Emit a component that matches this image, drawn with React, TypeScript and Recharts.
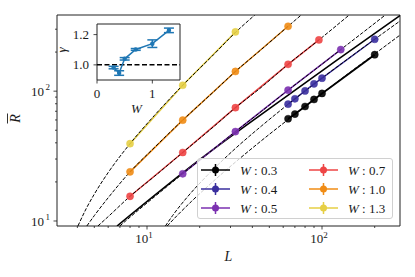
import React from 'react';
import { LineChart, Line, XAxis, YAxis, ReferenceArea, Legend, ErrorBar, ReferenceLine, CartesianGrid } from 'recharts';

// ---------- main panel data ----------
const W_LABELS = ['0.3', '0.4', '0.5', '0.7', '1.0', '1.3'];
const COLORS = ['#000000', '#3a2f9e', '#7b31b0', '#ee4545', '#f08c15', '#e6cf45'];

const L_W03 = [64, 70, 80, 90, 100, 200];
const R_W03 = [61.3, 66.6, 76.2, 86.3, 96, 191];
const L_W04 = [64, 70, 80, 90, 100, 200];
const R_W04 = [79.4, 87.3, 100.5, 113.8, 125.9, 251];
const L_W05 = [16, 32, 64, 128];
const R_W05 = [23.1, 48.8, 101.8, 209];
const L_W07 = [8, 16, 32, 64, 96];
const R_W07 = [15.5, 33.7, 74.6, 161, 248];
const L_W10 = [8, 16, 32, 64];
const R_W10 = [23.9, 59.8, 141.8, 316];
const L_W13 = [8, 16, 32];
const R_W13 = [39.4, 111, 286];

// dashed fit curves
const FIT_L_W03 = [13.04, 15, 18, 24, 32, 45, 64, 100, 140, 200, 279];
const FIT_R_W03 = [9.15, 11.15, 14.2, 20.3, 28.4, 41.5, 60.4, 96, 135.3, 193.6, 270.3];
const FIT_L_W04 = [12.74, 14, 17, 22, 32, 45, 64, 100, 140, 200, 279];
const FIT_R_W04 = [9.15, 11.0, 15.3, 22.3, 36.2, 53.8, 79.2, 125.9, 176.6, 251, 347];
const FIT_L_W05 = [6.99, 8, 11, 16, 22, 32, 45, 64, 90, 128, 170, 230];
const FIT_R_W05 = [9.15, 10.7, 15.3, 23.1, 32.6, 48.8, 69.8, 101.8, 144.7, 209, 281, 386];
const FIT_L_W07 = [5.24, 6, 8, 11, 16, 24, 32, 45, 64, 96, 143];
const FIT_R_W07 = [9.15, 10.8, 15.5, 22.0, 33.7, 53.2, 74.6, 107.1, 161, 248, 386];
const FIT_L_W10 = [4.53, 5, 6, 8, 11, 16, 24, 32, 45, 64, 76.1];
const FIT_R_W10 = [9.15, 11.0, 15.1, 23.9, 36.7, 59.8, 98.8, 141.8, 209.3, 316, 386];
const FIT_L_W13 = [4.03, 4.5, 5, 6, 8, 11, 16, 24, 32, 41.3];
const FIT_R_W13 = [9.15, 12.5, 16.1, 23.6, 39.4, 64.8, 111, 191, 283, 386];

// solid guide line
const GUIDE_L = [6.74, 20, 50.5, 120, 279];
const GUIDE_R = [9.15, 29.7, 74, 171, 382];

const X_TICKS = [4, 5, 6, 7, 8, 9, 10, 20, 30, 40, 50, 60, 70, 80, 90, 100, 200];
const Y_TICKS = [10, 20, 30, 40, 50, 60, 70, 80, 90, 100, 200, 300];
const X_MIN = 3.06, X_MAX = 279, Y_MIN = 9.15, Y_MAX = 386;

// ---------- inset data ----------
const INSET_W = [0.3, 0.4, 0.5, 0.7, 1.0, 1.3];
const INSET_GAMMA = [0.982, 0.946, 1.04, 1.102, 1.14, 1.228];
const INSET_ERR = [0.008, 0.015, 0.008, 0.006, 0.025, 0.015];
const INSET_X_TICKS = [0, 1];
const INSET_Y_TICKS = [1.0, 1.2];

const zip = (ls: number[], rs: number[]) => ls.map((L, i) => ({ L, R: rs[i] }));

const SERIES = [
  zip(L_W03, R_W03), zip(L_W04, R_W04), zip(L_W05, R_W05),
  zip(L_W07, R_W07), zip(L_W10, R_W10), zip(L_W13, R_W13),
];
const FITS = [
  zip(FIT_L_W03, FIT_R_W03), zip(FIT_L_W04, FIT_R_W04), zip(FIT_L_W05, FIT_R_W05),
  zip(FIT_L_W07, FIT_R_W07), zip(FIT_L_W10, FIT_R_W10), zip(FIT_L_W13, FIT_R_W13),
];
const GUIDE = zip(GUIDE_L, GUIDE_R);
const INSET = INSET_W.map((W, i) => ({ W, g: INSET_GAMMA[i], err: INSET_ERR[i] }));

const FONT = '"Liberation Serif", "DejaVu Serif", serif';
const INK = '#1a1a1a';
const TS = { fontFamily: FONT } as React.CSSProperties;
const TSI = { fontFamily: FONT, fontStyle: 'italic' } as React.CSSProperties;

const XTick = (props: any) => {
  const { x, y, payload } = props;
  const v = payload.value;
  const major = v === 10 || v === 100;
  return (
    <g>
      <line x1={x} y1={y} x2={x} y2={y + (major ? 3.5 : 2)} stroke={INK} strokeWidth={0.8} />
      {major && (
        <text x={x - 3} y={y + 17} textAnchor="middle" style={TS} fontSize={13} fill={INK}>
          10<tspan dy={-5} fontSize={9}>{v === 10 ? '1' : '2'}</tspan>
        </text>
      )}
    </g>
  );
};

const YTick = (props: any) => {
  const { x, y, payload } = props;
  const v = payload.value;
  const major = v === 10 || v === 100;
  return (
    <g>
      <line x1={x} y1={y} x2={x - (major ? 3.5 : 2)} y2={y} stroke={INK} strokeWidth={0.8} />
      {major && (
        <text x={x - 13} y={y + 5} textAnchor="end" style={TS} fontSize={13} fill={INK}>
          10
        </text>
      )}
      {major && (
        <text x={x - 7} y={y - 1} textAnchor="end" style={TS} fontSize={9} fill={INK}>
          {v === 10 ? '1' : '2'}
        </text>
      )}
    </g>
  );
};

const InsetXTick = (props: any) => {
  const { x, y, payload } = props;
  return (
    <g>
      <line x1={x} y1={y} x2={x} y2={y + 3.5} stroke={INK} strokeWidth={0.8} />
      <text x={x} y={y + 18} textAnchor="middle" style={TS} fontSize={13} fill={INK}>
        {String(payload.value)}
      </text>
    </g>
  );
};

const InsetYTick = (props: any) => {
  const { x, y, payload } = props;
  return (
    <g>
      <line x1={x} y1={y} x2={x - 3.5} y2={y} stroke={INK} strokeWidth={0.8} />
      <text x={x - 8} y={y + 4.5} textAnchor="end" style={TS} fontSize={13} fill={INK}>
        {Number(payload.value).toFixed(1)}
      </text>
    </g>
  );
};

const renderLegend = () => {
  const entries = W_LABELS.map((w, i) => {
    const col = i < 3 ? 0 : 1;
    const row = i % 3;
    const x0 = col === 0 ? 3 : 111;
    const cy = 11 + row * 19;
    const c = COLORS[i];
    return (
      <g key={w}>
        <line x1={x0} y1={cy} x2={x0 + 29} y2={cy} stroke={c} strokeWidth={1.5} />
        <line x1={x0 + 14.5} y1={cy - 6} x2={x0 + 14.5} y2={cy + 6} stroke={c} strokeWidth={1.5} />
        <circle cx={x0 + 14.5} cy={cy} r={3.5} fill={c} />
        <text x={x0 + 39} y={cy + 4.5} style={TS} fontSize={13} fill={INK}>
          <tspan style={TSI}>W</tspan>
          <tspan> : {w}</tspan>
        </text>
      </g>
    );
  });
  return (
    <div style={{ width: 196, height: 61, boxSizing: 'border-box', border: '1px solid #d0d0d0', borderRadius: 3, background: 'rgba(255,255,255,0.8)' }}>
      <svg width={194} height={59} style={{ display: 'block' }}>{entries}</svg>
    </div>
  );
};

export default function App() {
  return (
    <div style={{ position: 'absolute', left: 0, top: 0, width: 415, height: 277, background: '#fff' }}>
      <LineChart width={415} height={277} margin={{ top: 15, right: 15, bottom: 21, left: 0 }}>
        <XAxis
          dataKey="L" type="number" scale="log" domain={[X_MIN, X_MAX]} allowDataOverflow
          ticks={X_TICKS} interval={0} tickSize={0} tickMargin={0} tickLine={false} axisLine={false}
          height={30} tick={<XTick />}
          label={{
            content: (p: any) => {
              const vb = p.viewBox;
              return (
                <text x={vb.x + vb.width / 2} y={vb.y + 35} textAnchor="middle" style={TSI} fontSize={14} fill={INK}>L</text>
              );
            },
          }}
        />
        <YAxis
          dataKey="R" type="number" scale="log" domain={[Y_MIN, Y_MAX]} allowDataOverflow
          ticks={Y_TICKS} interval={0} tickSize={0} tickMargin={0} tickLine={false} axisLine={false}
          width={57} tick={<YTick />}
          label={{
            content: (p: any) => {
              const vb = p.viewBox;
              const cy = vb.y + vb.height / 2 - 2;
              return (
                <g transform={`rotate(-90 20 ${cy})`}>
                  <text x={20} y={cy} textAnchor="middle" style={TSI} fontSize={14} fill={INK}>R</text>
                  <line x1={15} y1={cy - 12.5} x2={25} y2={cy - 12.5} stroke={INK} strokeWidth={0.9} />
                </g>
              );
            },
          }}
        />
        <ReferenceArea x1={X_MIN} x2={X_MAX} y1={Y_MIN} y2={Y_MAX} fill="none" stroke="#222" strokeWidth={1} ifOverflow="visible" />
        <Line data={GUIDE} dataKey="R" type="monotone" stroke="#000" strokeWidth={1.6} dot={false} activeDot={false} isAnimationActive={false} legendType="none" />
        {SERIES.map((d, i) => (
          <Line key={'s' + i} data={d} dataKey="R" type="linear" stroke={COLORS[i]} strokeWidth={i === 0 ? 1.8 : 1.5} dot={false} activeDot={false} isAnimationActive={false} legendType="none" />
        ))}
        {FITS.map((d, i) => (
          <Line key={'f' + i} data={d} dataKey="R" type="monotone" stroke="#000" strokeWidth={1} strokeDasharray="3.7 1.6" dot={false} activeDot={false} isAnimationActive={false} legendType="none" />
        ))}
        {SERIES.map((d, i) => (
          <Line key={'m' + i} data={d} dataKey="R" name={'W : ' + W_LABELS[i]} type="linear" stroke="none"
            dot={{ r: 3.6, fill: COLORS[i], stroke: COLORS[i], strokeWidth: 0.4, fillOpacity: 0.9 }}
            activeDot={false} isAnimationActive={false} />
        ))}
        <Legend layout="horizontal" verticalAlign="middle" align="center" content={renderLegend}
          wrapperStyle={{ position: 'absolute', left: 197, top: 158, width: 196, height: 61 }} />
      </LineChart>

      <div style={{ position: 'absolute', left: 0, top: 0 }}>
        <LineChart width={190} height={120} data={INSET} margin={{ top: 24, right: 10, bottom: 10, left: 57 }}>
          <CartesianGrid horizontal={false} vertical={false} fill="#fff" />
          <XAxis dataKey="W" type="number" domain={[0, 1.5]} ticks={INSET_X_TICKS} interval={0}
            tickSize={0} tickMargin={0} tickLine={false} axisLine={false} height={30} tick={<InsetXTick />}
            label={{
              content: (p: any) => {
                const vb = p.viewBox;
                return <text x={vb.x + vb.width / 2 - 2} y={vb.y + 33} textAnchor="middle" style={TSI} fontSize={13} fill={INK}>W</text>;
              },
            }}
          />
          <YAxis type="number" domain={[0.9, 1.27]} ticks={INSET_Y_TICKS} interval={0}
            tickSize={0} tickMargin={0} tickLine={false} axisLine={false} width={40} tick={<InsetYTick />}
            label={{
              content: () => {
                const cy = 50;
                return <text x={66} y={cy} transform={`rotate(-90 66 ${cy})`} textAnchor="middle" style={TSI} fontSize={13} fill={INK}>γ</text>;
              },
            }}
          />
          <ReferenceLine y={1} stroke="#000" strokeWidth={1.5} strokeDasharray="5 2.5" />
          <ReferenceArea x1={0} x2={1.5} y1={0.9} y2={1.27} fill="none" stroke="#222" strokeWidth={1} ifOverflow="visible" />
          <Line dataKey="g" type="linear" stroke="#1f77b4" strokeWidth={1.5} dot={{ r: 1.5, fill: '#1f77b4', stroke: '#1f77b4' }} activeDot={false} isAnimationActive={false}>
            <ErrorBar dataKey="err" width={5} stroke="#1f77b4" strokeWidth={1.5} direction="y" />
          </Line>
        </LineChart>
      </div>
    </div>
  );
}
